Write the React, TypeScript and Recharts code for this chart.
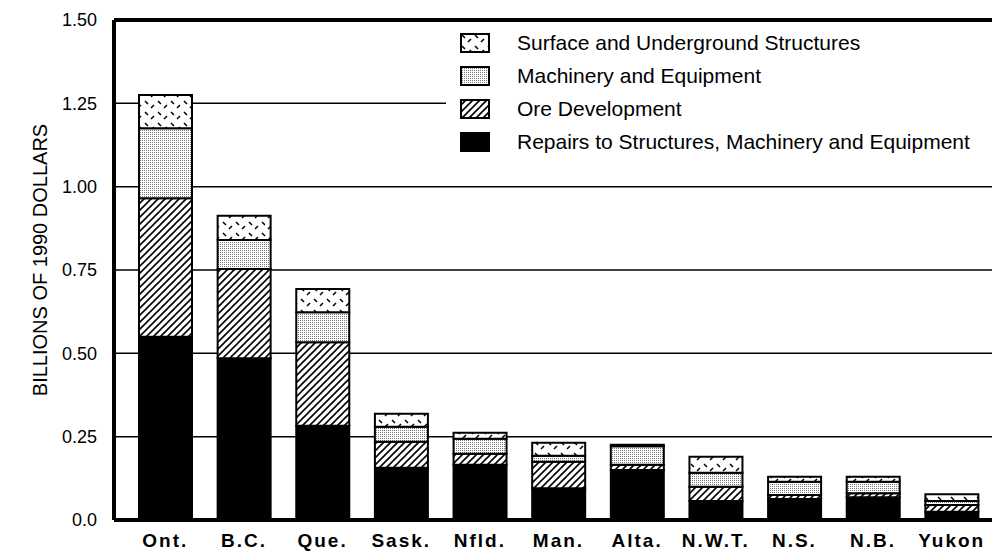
import React from 'react';
import { BarChart, Bar, XAxis, YAxis, CartesianGrid, Legend, ReferenceLine, Label } from 'recharts';

const categories = ['Ont.', 'B.C.', 'Que.', 'Sask.', 'Nfld.', 'Man.', 'Alta.', 'N.W.T.', 'N.S.', 'N.B.', 'Yukon'];
const repairs = [0.55, 0.485, 0.283, 0.157, 0.166, 0.095, 0.15, 0.057, 0.063, 0.068, 0.025];
const ore = [0.415, 0.268, 0.25, 0.078, 0.033, 0.08, 0.016, 0.043, 0.012, 0.012, 0.02];
const machinery = [0.21, 0.087, 0.09, 0.045, 0.045, 0.018, 0.055, 0.042, 0.04, 0.035, 0.012];
const surface = [0.1, 0.073, 0.07, 0.039, 0.018, 0.039, 0.005, 0.048, 0.015, 0.015, 0.02];

const yTicks = [0, 0.25, 0.5, 0.75, 1.0, 1.25, 1.5];
const yTickLabels = ['0.0', '0.25', '0.50', '0.75', '1.00', '1.25', '1.50'];

const seriesNames = {
  surface: 'Surface and Underground Structures',
  machinery: 'Machinery and Equipment',
  ore: 'Ore Development',
  repairs: 'Repairs to Structures, Machinery and Equipment',
};
const yAxisTitle = 'BILLIONS OF 1990 DOLLARS';

const data = categories.map((c, i) => ({
  name: c,
  repairs: repairs[i],
  ore: ore[i],
  machinery: machinery[i],
  surface: surface[i],
}));

const FONT = '"Liberation Sans", Arial, Helvetica, sans-serif';

const fills: Record<string, string> = {
  surface: 'url(#patSurface)',
  machinery: 'url(#patMachinery)',
  ore: 'url(#patOre)',
  repairs: '#000',
};

const legendOrder = ['surface', 'machinery', 'ore', 'repairs'];

const renderLegend = () => (
  <div style={{ fontFamily: FONT, fontSize: 21, color: '#000', background: '#fff' }}>
    {legendOrder.map((k) => (
      <div key={k} style={{ display: 'flex', alignItems: 'center', height: 33 }}>
        <svg width={30} height={20} style={{ display: 'block' }}>
          <rect x={1} y={1} width={28} height={18} fill={fills[k]} stroke="#000" strokeWidth={2} />
        </svg>
        <span style={{ marginLeft: 27, whiteSpace: 'nowrap' }}>{(seriesNames as any)[k]}</span>
      </div>
    ))}
  </div>
);

export default function App() {
  return (
    <div style={{ position: 'absolute', left: 0, top: 0, width: 992, height: 555, background: '#fff' }}>
      <BarChart width={992} height={555} data={data} margin={{ top: 20, right: 0, left: 0, bottom: 0 }}>
        <defs>
          <pattern id="patOre" patternUnits="userSpaceOnUse" width={7} height={7}>
            <rect width={7} height={7} fill="#fff" />
            <path d="M0,7 L7,0 M-1,1 L1,-1 M6,8 L8,6" stroke="#000" strokeWidth={1.6} />
          </pattern>
          <pattern id="patMachinery" patternUnits="userSpaceOnUse" width={2} height={2}>
            <rect width={2} height={2} fill="#fff" />
            <rect width={1} height={1} fill="#777" />
          </pattern>
          <pattern id="patSurface" patternUnits="userSpaceOnUse" width={13} height={11}>
            <rect width={13} height={11} fill="#fff" />
            <path d="M2,2 L5,5 M8,9 L11,6" stroke="#000" strokeWidth={1.5} />
          </pattern>
        </defs>
        <CartesianGrid vertical={false} stroke="#000" strokeWidth={1.5} />
        <XAxis
          dataKey="name"
          height={35}
          padding={{ left: 12, right: 1 }}
          tickLine={false}
          tickSize={0}
          tickMargin={14}
          axisLine={{ stroke: '#000', strokeWidth: 4 }}
          tick={{ fill: '#000', fontFamily: FONT, fontSize: 19, fontWeight: 'bold', letterSpacing: 2 }}
          interval={0}
        />
        <YAxis
          width={114}
          domain={[0, 1.5]}
          ticks={yTicks}
          tickFormatter={(v: number, i: number) => yTickLabels[i]}
          tickLine={false}
          tickSize={0}
          tickMargin={17}
          axisLine={{ stroke: '#000', strokeWidth: 4 }}
          tick={{ fill: '#000', fontFamily: FONT, fontSize: 18 }}
          interval={0}
        >
          <Label
            value={yAxisTitle}
            angle={-90}
            position="center"
            dx={-17}
            dy={-10}
            style={{ fill: '#000', fontFamily: FONT, fontSize: 20, textAnchor: 'middle' }}
          />
        </YAxis>
        <ReferenceLine y={1.5} stroke="#000" strokeWidth={4} />
        <Legend
          layout="vertical"
          align="center"
          verticalAlign="middle"
          content={renderLegend}
          wrapperStyle={{ top: 26, left: 446, width: 546, paddingLeft: 14, background: '#fff' }}
        />
        <Bar dataKey="repairs" name={seriesNames.repairs} stackId="a" fill={fills.repairs} stroke="#000" strokeWidth={2} barSize={53} isAnimationActive={false} />
        <Bar dataKey="ore" name={seriesNames.ore} stackId="a" fill={fills.ore} stroke="#000" strokeWidth={2} barSize={53} isAnimationActive={false} />
        <Bar dataKey="machinery" name={seriesNames.machinery} stackId="a" fill={fills.machinery} stroke="#000" strokeWidth={2} barSize={53} isAnimationActive={false} />
        <Bar dataKey="surface" name={seriesNames.surface} stackId="a" fill={fills.surface} stroke="#000" strokeWidth={2} barSize={53} isAnimationActive={false} />
      </BarChart>
    </div>
  );
}
